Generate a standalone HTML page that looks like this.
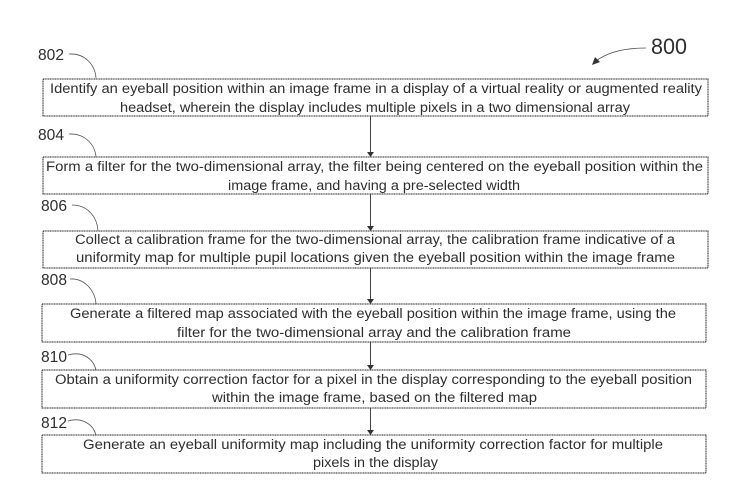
<!DOCTYPE html>
<html>
<head>
<meta charset="utf-8">
<style>
html,body{margin:0;padding:0;background:#fff;width:741px;height:489px;overflow:hidden}
svg{display:block}
text{font-family:"Liberation Sans",sans-serif;fill:#2e2e2e}
.t{font-size:14.2px}
.n{font-size:16px}
.b{fill:#fff;stroke:#222;stroke-width:1;stroke-dasharray:1.2 .5}
.l{fill:none;stroke:#444;stroke-width:1}
.c{fill:none;stroke:#555;stroke-width:.8}
.a{fill:#333;stroke:none}
</style>
</head>
<body>
<svg width="741" height="489" viewBox="0 0 741 489" xmlns="http://www.w3.org/2000/svg">
<g>
<line class="l" x1="370.5" y1="116" x2="370.5" y2="153"/><path class="a" d="M367 152h7l-3.500 5z"/>
<line class="l" x1="370.5" y1="194" x2="370.5" y2="227"/><path class="a" d="M367 226h7l-3.500 5z"/>
<line class="l" x1="370.5" y1="268" x2="370.5" y2="300"/><path class="a" d="M367 299h7l-3.500 5z"/>
<line class="l" x1="370.5" y1="342" x2="370.5" y2="366"/><path class="a" d="M367 365h7l-3.500 5z"/>
<line class="l" x1="370.5" y1="408" x2="370.5" y2="431"/><path class="a" d="M367 430h7l-3.500 5z"/>
</g>
<rect class="b" x="43" y="79" width="665" height="37"/>
<rect class="b" x="43" y="157" width="665" height="37"/>
<rect class="b" x="43" y="231" width="665" height="37"/>
<rect class="b" x="42" y="304" width="664" height="38"/>
<rect class="b" x="42" y="370" width="664" height="38"/>
<rect class="b" x="42" y="435" width="664" height="38"/>

<text class="t" x="50" y="93" textLength="652" lengthAdjust="spacingAndGlyphs">Identify an eyeball position within an image frame in a display of a virtual reality or augmented reality</text>
<text class="t" x="120" y="112" textLength="510" lengthAdjust="spacingAndGlyphs">headset, wherein the display includes multiple pixels in a two dimensional array</text>
<text class="t" x="46" y="171" textLength="657" lengthAdjust="spacingAndGlyphs">Form a filter for the two-dimensional array, the filter being centered on the eyeball position within the</text>
<text class="t" x="228" y="190" textLength="292" lengthAdjust="spacingAndGlyphs">image frame, and having a pre-selected width</text>
<text class="t" x="75" y="244" textLength="600" lengthAdjust="spacingAndGlyphs">Collect a calibration frame for the two-dimensional array, the calibration frame indicative of a</text>
<text class="t" x="76" y="262" textLength="599" lengthAdjust="spacingAndGlyphs">uniformity map for multiple pupil locations given the eyeball position within the image frame</text>
<text class="t" x="70" y="318" textLength="606" lengthAdjust="spacingAndGlyphs">Generate a filtered map associated with the eyeball position within the image frame, using the</text>
<text class="t" x="177" y="337" textLength="394" lengthAdjust="spacingAndGlyphs">filter for the two-dimensional array and the calibration frame</text>
<text class="t" x="55" y="384" textLength="637" lengthAdjust="spacingAndGlyphs">Obtain a uniformity correction factor for a pixel in the display corresponding to the eyeball position</text>
<text class="t" x="212" y="402" textLength="325" lengthAdjust="spacingAndGlyphs">within the image frame, based on the filtered map</text>
<text class="t" x="83" y="449" textLength="580" lengthAdjust="spacingAndGlyphs">Generate an eyeball uniformity map including the uniformity correction factor for multiple</text>
<text class="t" x="313" y="467" textLength="125" lengthAdjust="spacingAndGlyphs">pixels in the display</text>

<text class="n" x="38" y="60" textLength="26" lengthAdjust="spacingAndGlyphs">802</text>
<text class="n" x="38" y="140" textLength="26" lengthAdjust="spacingAndGlyphs">804</text>
<text class="n" x="41" y="211" textLength="26" lengthAdjust="spacingAndGlyphs">806</text>
<text class="n" x="41" y="285" textLength="26" lengthAdjust="spacingAndGlyphs">808</text>
<text class="n" x="41" y="362" textLength="26" lengthAdjust="spacingAndGlyphs">810</text>
<text class="n" x="41" y="428" textLength="26" lengthAdjust="spacingAndGlyphs">812</text>
<text x="651" y="54" style="font-size:22px" textLength="36" lengthAdjust="spacingAndGlyphs">800</text>

<path class="c" d="M69 54C84 53 95 64 96 78"/>
<path class="c" d="M69 134C84 133 95 144 96 157"/>
<path class="c" d="M72 205C87 205 97 216 98 231"/>
<path class="c" d="M70 279C84 278 95 290 96 304"/>
<path class="c" d="M68 355C82 351 93 358 96 370"/>
<path class="c" d="M68 421C82 417 93 424 96 435"/>
<path class="c" d="M646 48C625 48 608 52 596 61"/>
<path class="a" d="M592 65l3-8 5 5z"/>
</svg>
</body>
</html>
